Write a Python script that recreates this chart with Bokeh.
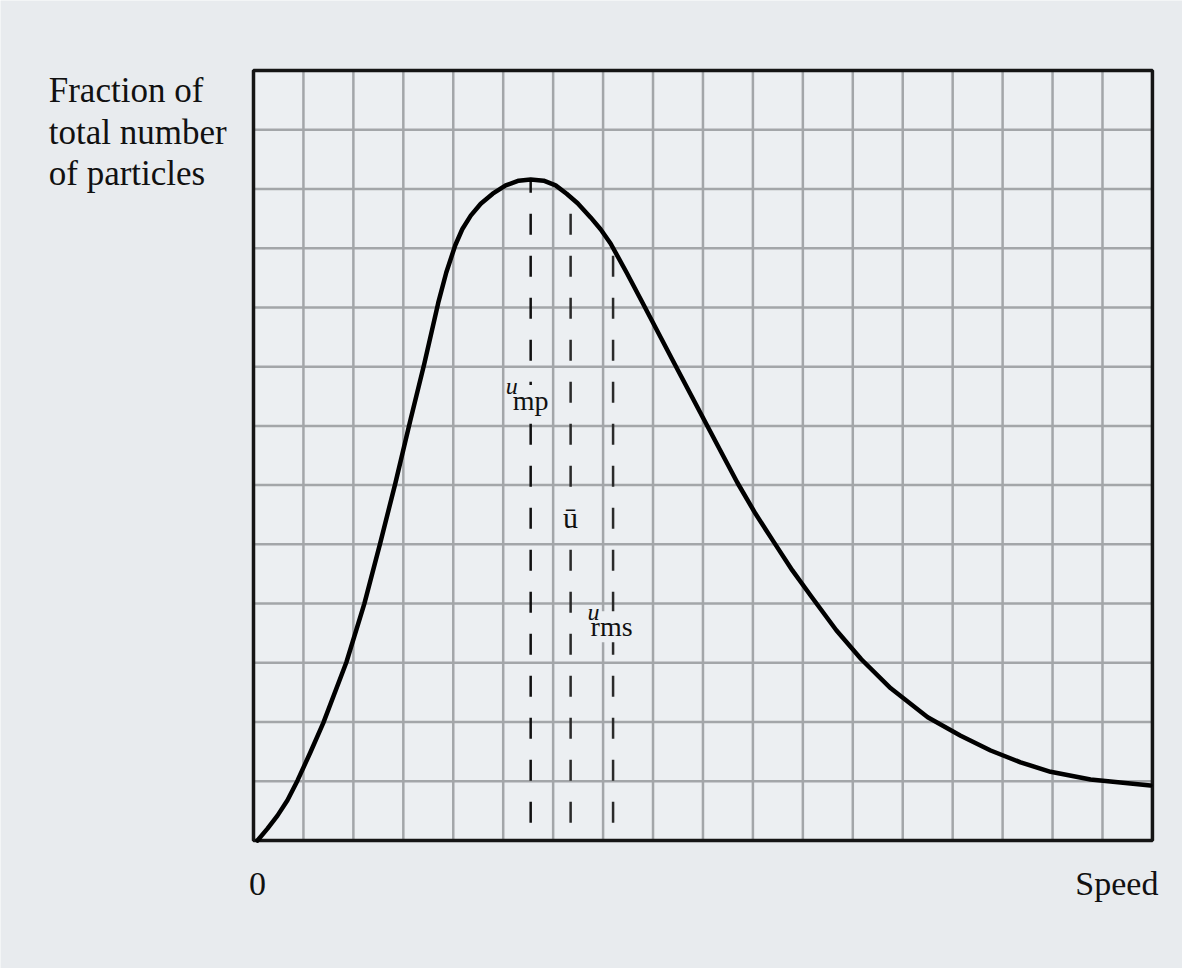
from bokeh.plotting import figure
from bokeh.models import Label, Range1d
from bokeh.embed import file_html
from bokeh.resources import INLINE

# Speed distribution curve, in grid units (18 columns x 13 rows of the chart grid)
speed = [0.08, 0.28, 0.48, 0.68, 0.88, 1.14, 1.40, 1.86, 2.22, 2.54, 2.84, 3.14,
         3.42, 3.70, 3.86, 4.04, 4.18, 4.35, 4.55, 4.79, 5.05, 5.31, 5.55, 5.81,
         6.05, 6.27, 6.49, 6.75, 6.95, 7.15, 7.47, 7.79, 8.43, 9.03, 9.35, 9.69,
         10.05, 10.41, 10.79, 11.17, 11.67, 12.17, 12.76, 13.50, 14.16, 14.76,
         15.36, 15.96, 16.76, 17.36, 17.96]
fraction = [0.00, 0.20, 0.42, 0.68, 1.01, 1.49, 1.99, 3.01, 4.00, 5.03, 6.03, 7.09,
            8.05, 9.08, 9.59, 10.05, 10.32, 10.55, 10.75, 10.92, 11.06, 11.14, 11.16, 11.14,
            11.06, 10.92, 10.76, 10.52, 10.32, 10.08, 9.59, 9.08, 8.05, 7.09, 6.58, 6.04,
            5.52, 5.05, 4.56, 4.12, 3.55, 3.06, 2.57, 2.08, 1.77, 1.52,
            1.32, 1.16, 1.03, 0.98, 0.93]

# Characteristic speeds: most probable, average, root-mean-square
char_speed = [5.55, 6.35, 7.20]
char_height = [11.16, 10.86, 10.00]
dash_floor = 0.30

# Chart grid extent
n_cols, n_rows = 18, 13
grid_x = list(range(1, n_cols))
grid_y = list(range(1, n_rows))

SERIF = "Liberation Serif"
PAGE_BG = "#e8ebee"
PLOT_BG = "#eceff2"
GRID = "#a3a6a9"

# The canvas spans the whole page so the outer captions share the data scale
p = figure(width=1182, height=968,
           x_range=Range1d(-5.066, 18.602), y_range=Range1d(-2.161, 14.182),
           output_backend="svg", toolbar_location=None,
           min_border=0)
p.xaxis.visible = False
p.yaxis.visible = False
p.xgrid.visible = False
p.ygrid.visible = False
p.outline_line_color = None
p.background_fill_color = PAGE_BG
p.border_fill_color = PAGE_BG

# plotting panel
p.quad(left=[0], right=[n_cols], bottom=[0], top=[n_rows],
       fill_color=PLOT_BG, line_color=None)

# grid lines
p.segment(x0=grid_x, y0=[0] * len(grid_x), x1=grid_x, y1=[n_rows] * len(grid_x),
          line_color=GRID, line_width=2.5)
p.segment(x0=[0] * len(grid_y), y0=grid_y, x1=[n_cols] * len(grid_y), y1=grid_y,
          line_color=GRID, line_width=2.5)

# panel frame
p.quad(left=[0], right=[n_cols], bottom=[0], top=[n_rows],
       fill_color=None, line_color="#151515", line_width=3.5)

# vertical dashed markers
p.segment(x0=char_speed, y0=[dash_floor] * 3, x1=char_speed, y1=char_height,
          line_color=["#101010", "#2a2a2a", "#2a2a2a"], line_width=2.5,
          line_dash="21 21")

# distribution curve
p.line(speed, fraction, line_color="#000000", line_width=4.5,
       line_join="round", line_cap="round")


def lab(x, y, text, size, align="left", style="normal", bg=None):
    p.add_layout(Label(x=x, y=y, text=text, text_font=SERIF,
                       text_font_size=f"{size}px", text_font_style=style,
                       text_color="#111111", text_align=align,
                       text_baseline="alphabetic",
                       background_fill_color=bg))


# u_mp
lab(char_speed[0] - 0.36, 7.43, "mp", 28, bg=PLOT_BG)
lab(char_speed[0] - 0.50, 7.68, "u", 24, style="italic")
# u bar
lab(char_speed[1], 5.45, "\u016b", 30, align="center", bg=PLOT_BG)
# u_rms
lab(char_speed[2] - 0.45, 3.61, "rms", 28, bg=PLOT_BG)
lab(char_speed[2] - 0.51, 3.85, "u", 24, style="italic")

# axis captions
lab(0.08, -0.73, "0", 34, align="center")
lab(18.12, -0.73, "Speed", 34, align="right")
lab(-4.10, 12.66, "Fraction of", 35)
lab(-4.10, 11.95, "total number", 35)
lab(-4.10, 11.26, "of particles", 35)

open("out.html", "w").write(file_html(p, INLINE))
